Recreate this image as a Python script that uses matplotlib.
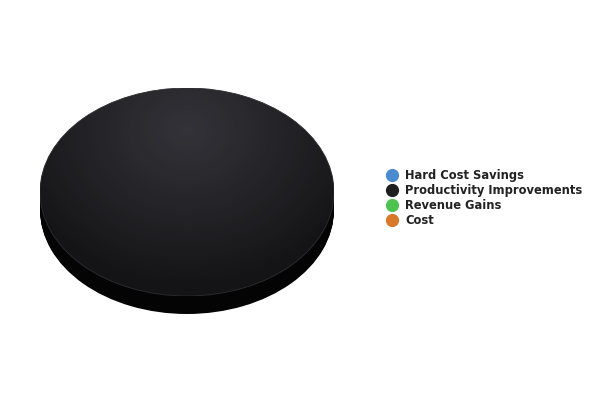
import numpy as np
import matplotlib
matplotlib.use("Agg")
import matplotlib.pyplot as plt
from matplotlib.lines import Line2D
from matplotlib.patches import Ellipse

categories = ["Hard Cost Savings", "Productivity Improvements", "Revenue Gains", "Cost"]
values = [0, 100, 0, 0]
top_colors = ["#3f7fc4", "#141416", "#45b845", "#d0701f"]
side_colors = ["#2a5a8e", "#040404", "#2e7f2e", "#8e4a12"]
legend_colors = ["#4a8ad0", "#1e1e1e", "#4ec24e", "#d8782a"]

W, H = 600, 400
cx, cy, rx, ry, depth = 187, 192, 147, 104, 18

fig = plt.figure(figsize=(6, 4), dpi=100)
fig.patch.set_facecolor("white")

def pie_axes(offset):
    left = (cx - rx) / W
    bottom = (H - (cy + ry) - offset) / H
    ax = fig.add_axes([left, bottom, 2 * rx / W, 2 * ry / H])
    ax.set_axis_off()
    return ax

# side (depth) layers
for off in range(depth, 0, -1):
    ax = pie_axes(off)
    ax.pie(values, colors=side_colors, startangle=90, counterclock=False,
           wedgeprops=dict(linewidth=0))
    ax.set_aspect("auto")
    ax.set_xlim(-1, 1); ax.set_ylim(-1, 1)

# top face
ax = pie_axes(0)
wedges, _ = ax.pie(values, colors=top_colors, startangle=90, counterclock=False,
                   wedgeprops=dict(linewidth=0))
ax.set_aspect("auto")
ax.set_xlim(-1, 1); ax.set_ylim(-1, 1)

# radial highlight overlay
n = 400
xx, yy = np.meshgrid(np.linspace(-1, 1, n), np.linspace(1, -1, n))
d = np.sqrt((xx / 1.25) ** 2 + ((yy - 0.6) / 1.5) ** 2)
alpha = 0.16 * np.clip(1 - d, 0, None) ** 0.9
rgba = np.zeros((n, n, 4))
rgba[..., 0] = 0.86
rgba[..., 1] = 0.84
rgba[..., 2] = 0.95
rgba[..., 3] = alpha
im = ax.imshow(rgba, extent=(-1, 1, -1, 1), aspect="auto", zorder=3)
clip = Ellipse((0, 0), 2, 2, transform=ax.transData)
im.set_clip_path(clip)
rim = Ellipse((0, 0), 2, 2, transform=ax.transData, fill=False,
              edgecolor="#2e2e30", linewidth=0.6, zorder=4)
ax.add_patch(rim)
ax.set_xlim(-1, 1); ax.set_ylim(-1, 1)

# legend
handles = [Line2D([], [], marker="o", linestyle="none", markersize=8.5,
                  markerfacecolor=c, markeredgecolor=c) for c in legend_colors]
leg = fig.legend(handles, categories, loc="upper left",
                 bbox_to_anchor=(386.8 / W, 1 - 169 / H), frameon=False,
                 prop=dict(family="DejaVu Sans", weight="bold", size=8.3),
                 handlelength=0.9, handletextpad=0.68, labelspacing=0.17,
                 borderaxespad=0, borderpad=0)
for t in leg.get_texts():
    t.set_color("#222222")

fig.savefig("out.png", dpi=100, facecolor="white")
